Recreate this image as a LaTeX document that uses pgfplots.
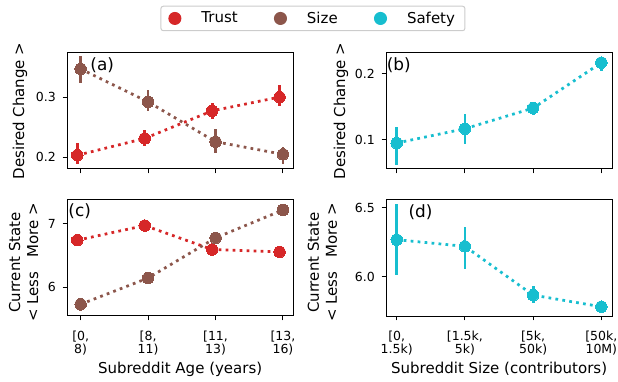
\documentclass[border=0pt]{standalone}
\usepackage{pgfplots}
\pgfplotsset{compat=1.18}
\usepackage{fontspec}
\setmainfont{DejaVu Sans}
\definecolor{trust}{HTML}{D62728}
\definecolor{sizec}{HTML}{8C564B}
\definecolor{safety}{HTML}{17BECF}
\pgfplotsset{
  panel/.style={
    scale only axis, width=181pt, height=93pt, anchor=south west,
    axis line style={line width=0.8pt},
    tick align=outside, tick style={black, line width=0.8pt},
    major tick length=3.5pt,
    xtick pos=bottom, ytick pos=left,
    xtick={0,1,2,3},
    tick label style={font=\fontsize{10}{11}\selectfont},
    xticklabel style={align=center, font=\fontsize{10}{10}\selectfont, yshift=-5pt},
    yticklabel style={xshift=-2pt, /pgf/number format/.cd, assume math mode=true},
    label style={font=\fontsize{12}{14.4}\selectfont},
    xlabel style={at={(axis description cs:0.5,-0.456)}, anchor=center},
    clip=false,
  },
  ser/.style={color=#1, line width=2.2pt, dash pattern=on 2.2pt off 3.4pt,
    mark=*, mark size=4.6pt, mark options={solid, fill=#1, draw=#1, line width=0pt},
    /pgfplots/error bars/y dir=both, /pgfplots/error bars/y explicit,
    /pgfplots/error bars/error mark=none,
    /pgfplots/error bars/error bar style={line width=2.2pt, solid, color=#1}},
}
\begin{document}
\begin{tikzpicture}
\useasboundingbox (0pt,0pt) rectangle (494.4pt,304.8pt);
% (a)
\begin{axis}[panel, at={(53.6pt,169.6pt)},
  xmin=-0.2025, xmax=3.1525, ymin=0.18, ymax=0.374,
  ytick={0.2,0.3}, xticklabels={},
  yticklabel style={/pgf/number format/.cd, fixed, fixed zerofill, precision=1},
  ylabel={Desired Change >},
  ylabel style={at={(axis description cs:-0.2077,0.5)}, anchor=center},
  legend columns=3,
  legend image code/.code={\fill[#1] (0pt,0pt) circle (4.8pt);},
  legend style={at={(axis description cs:1.087,1.295)}, anchor=center,
    draw=black!20, rounded corners=2pt, line width=0.8pt,
    font=\fontsize{12}{14.4}\selectfont, inner xsep=6pt, inner ysep=2.5pt,
    /tikz/every odd column/.style={column sep=14pt},
    /tikz/every even column/.style={column sep=27pt}},
]
\addlegendimage{trust}\addlegendentry{Trust}
\addlegendimage{sizec}\addlegendentry{Size}
\addlegendimage{safety}\addlegendentry{Safety}
\addplot[ser=trust, forget plot] coordinates {
 (-0.05,0.203) += (0,0.020) -= (0,0.015)
 (0.95,0.231) += (0,0.014) -= (0,0.013)
 (1.95,0.277) += (0,0.013) -= (0,0.014)
 (2.95,0.300) += (0,0.021) -= (0,0.015)
};
\addplot[ser=sizec, forget plot] coordinates {
 (0,0.347) += (0,0.021) -= (0,0.024)
 (1,0.292) += (0,0.020) -= (0,0.015)
 (2,0.2255) += (0,0.0205) -= (0,0.0195)
 (3,0.2045) += (0,0.0125) -= (0,0.0165)
};
\node[font=\fontsize{13.5}{16}\selectfont] at (axis cs:0.32,0.353) {(a)};
\end{axis}
% (b)
\begin{axis}[panel, at={(308.8pt,169.6pt)},
  xmin=-0.157, xmax=3.16, ymin=0.0556, ymax=0.232,
  ytick={0.1,0.2}, xticklabels={},
  yticklabel style={/pgf/number format/.cd, fixed, fixed zerofill, precision=1},
  ylabel={Desired Change >},
  ylabel style={at={(axis description cs:-0.1985,0.5)}, anchor=center},
]
\addplot[ser=safety] coordinates {
 (0,0.095) += (0,0.025) -= (0,0.033)
 (1,0.1167) += (0,0.023) -= (0,0.023)
 (2,0.148) += (0,0.010) -= (0,0.010)
 (3,0.217) += (0,0.009) -= (0,0.012)
};
\node[font=\fontsize{13.5}{16}\selectfont] at (axis cs:0.03,0.2126) {(b)};
\end{axis}
% (c)
\begin{axis}[panel, at={(53.6pt,52pt)},
  xmin=-0.2025, xmax=3.1525, ymin=5.55, ymax=7.375,
  ytick={6,7},
  xticklabels={{[0,\\8)},{[8,\\11)},{[11,\\13)},{[13,\\16)}},
  xlabel={Subreddit Age (years)},
  ylabel={Current State\\\makebox[95pt]{< Less\hfill More >}},
  ylabel style={at={(axis description cs:-0.192,0.46)}, anchor=center, align=center},
]
\addplot[ser=trust] coordinates {
 (-0.05,6.74) += (0,0.07) -= (0,0.07)
 (0.95,6.97) += (0,0.04) -= (0,0.04)
 (1.95,6.594) += (0,0.05) -= (0,0.05)
 (2.95,6.557) += (0,0.03) -= (0,0.03)
};
\addplot[ser=sizec] coordinates {
 (0,5.734) += (0,0.10) -= (0,0.10)
 (1,6.146) += (0,0.06) -= (0,0.06)
 (2,6.776) += (0,0.06) -= (0,0.06)
 (3,7.214) += (0,0.05) -= (0,0.05)
};
\node[font=\fontsize{13.5}{16}\selectfont] at (axis cs:-0.015,7.19) {(c)};
\end{axis}
% (d)
\begin{axis}[panel, at={(308.8pt,52pt)},
  xmin=-0.157, xmax=3.16, ymin=5.717, ymax=6.558,
  ytick={6.0,6.5},
  yticklabel style={/pgf/number format/.cd, fixed, fixed zerofill, precision=1},
  xticklabels={{[0,\\1.5k)},{[1.5k,\\5k)},{[5k,\\50k)},{[50k,\\10M)}},
  xlabel={Subreddit Size (contributors)},
  ylabel={Current State\\\makebox[95pt]{< Less\hfill More >}},
  ylabel style={at={(axis description cs:-0.2807,0.46)}, anchor=center, align=center},
]
\addplot[ser=safety] coordinates {
 (0,6.269) += (0,0.255) -= (0,0.257)
 (1,6.221) += (0,0.139) -= (0,0.161)
 (2,5.868) += (0,0.065) -= (0,0.060)
 (3,5.784) += (0,0.020) -= (0,0.020)
};
\node[font=\fontsize{13.5}{16}\selectfont] at (axis cs:0.35,6.466) {(d)};
\end{axis}
\end{tikzpicture}
\end{document}
